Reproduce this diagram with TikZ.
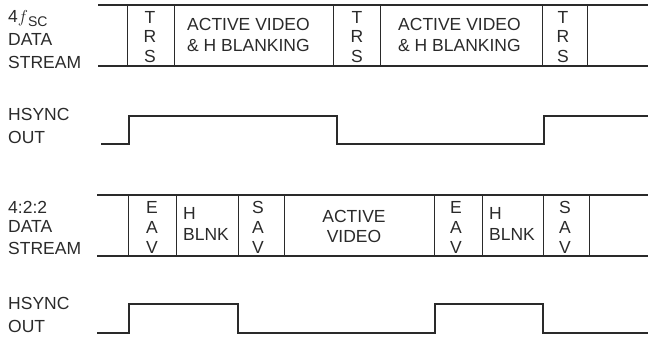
\documentclass[tikz,border=0pt]{standalone}
\usepackage{fontspec}
\setmainfont{Liberation Sans}
\definecolor{ink}{HTML}{2A2A2A}
\begin{document}
\begin{tikzpicture}[x=1pt,y=-1pt,
  txt/.style={inner sep=0pt, text=ink, font=\fontsize{17.5}{17.5}\selectfont},
  lft/.style={txt, anchor=base west},
  mid/.style={txt, anchor=base},
  wire/.style={draw=ink, line width=1.2pt},
  vwire/.style={draw=ink, line width=1pt}]
\useasboundingbox (0,0) rectangle (653,344);

% ---- 4fSC data stream ----
\draw[wire] (98,5) -- (648,5);
\draw[wire] (98,66) -- (648,66);
\foreach \x in {127,174,333,380,542,587} \draw[vwire] (\x,5) -- (\x,66);

\node[lft] (l1a) at (8,22.5) {4{\fontsize{19}{19}\selectfont$f$}\raisebox{-4pt}{\fontsize{14}{14}\selectfont SC}};
\node[lft] (l1b) at (8,45.5) {DATA};
\node[lft] (l1c) at (8,68.5) {STREAM};

\foreach \c/\n in {150/a,357/b,563/c}{
  \node[mid] (t\n1) at (\c,24) {T};
  \node[mid] (t\n2) at (\c,43) {R};
  \node[mid] (t\n3) at (\c,62.5) {S};
}
\node[lft] (av1a) at (187,31) {ACTIVE VIDEO};
\node[lft] (av1b) at (187,52) {\& H BLANKING};
\node[lft] (av2a) at (398,31) {ACTIVE VIDEO};
\node[lft] (av2b) at (398,52) {\& H BLANKING};

% ---- HSYNC OUT (top) ----
\node[lft] (h1a) at (8,120.5) {HSYNC};
\node[lft] (h1b) at (8,144) {OUT};
\draw[wire] (101,144) -- (129,144) -- (129,116) -- (337,116) -- (337,144)
  -- (544,144) -- (544,116) -- (648,116);

% ---- 4:2:2 data stream ----
\draw[wire] (97,195) -- (648,195);
\draw[wire] (97,256) -- (648,256);
\foreach \x in {128,176,238,284,434,482,543,589} \draw[vwire] (\x,195) -- (\x,256);

\node[lft] (l2a) at (8,213.5) {4:2:2};
\node[lft] (l2b) at (8,233) {DATA};
\node[lft] (l2c) at (8,254.5) {STREAM};

\foreach \c/\n/\p in {152/a/E,456/b/E,258/c/S,565/d/S}{
  \node[mid] (e\n1) at (\c,214) {\p};
  \node[mid] (e\n2) at (\c,233.5) {A};
  \node[mid] (e\n3) at (\c,254) {V};
}
\node[lft] (hb1a) at (183,219.5) {H};
\node[lft] (hb1b) at (183,240.5) {BLNK};
\node[lft] (hb2a) at (489,219.5) {H};
\node[lft] (hb2b) at (489,240.5) {BLNK};
\node[mid] (avc1) at (354,222.5) {ACTIVE};
\node[mid] (avc2) at (354,242.5) {VIDEO};

% ---- HSYNC OUT (bottom) ----
\node[lft] (h2a) at (8,310) {HSYNC};
\node[lft] (h2b) at (8,333) {OUT};
\draw[wire] (97,333) -- (129,333) -- (129,304) -- (238,304) -- (238,333)
  -- (435,333) -- (435,304) -- (543,304) -- (543,333) -- (648,333);
\end{tikzpicture}
\end{document}
